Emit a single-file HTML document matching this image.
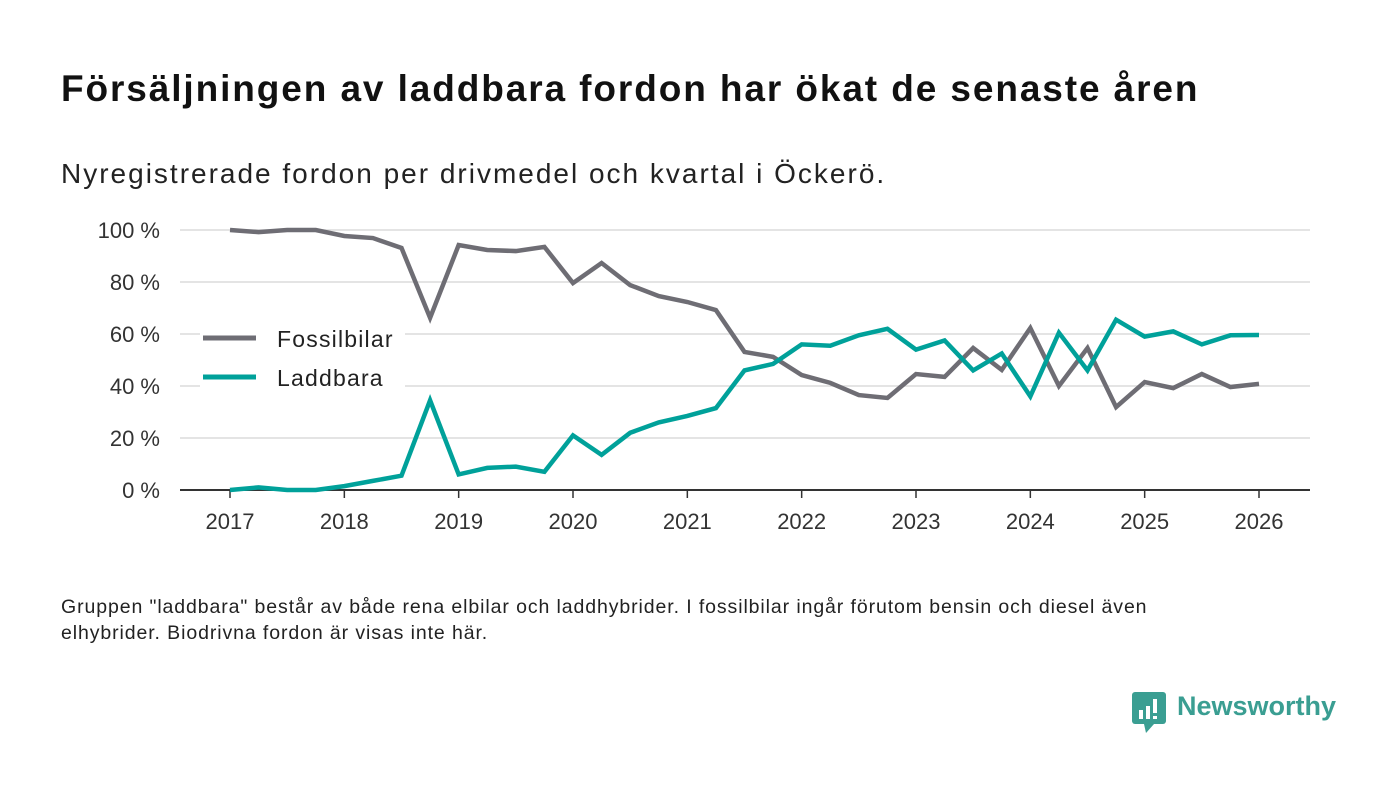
<!DOCTYPE html>
<html><head><meta charset="utf-8"><style>
body{margin:0;background:#fff;font-family:"Liberation Sans","DejaVu Sans",sans-serif;}
#wrap{position:relative;width:1400px;height:793px;overflow:hidden;}
h1{position:absolute;left:61px;top:68px;margin:0;font-size:37px;font-weight:bold;color:#111;letter-spacing:1.9px;white-space:nowrap;}
.sub{position:absolute;left:61px;top:158px;font-size:28px;color:#222;letter-spacing:2px;white-space:nowrap;}
.note{position:absolute;left:61px;top:594px;font-size:19.5px;line-height:26px;color:#222;width:1120px;letter-spacing:0.9px;}
.logo{position:absolute;left:1132px;top:692px;}
.logotxt{position:absolute;left:1177px;top:691px;font-size:27px;font-weight:bold;color:#3a9e92;}
</style></head><body><div id="wrap">
<h1>Försäljningen av laddbara fordon har ökat de senaste åren</h1>
<div class="sub">Nyregistrerade fordon per drivmedel och kvartal i Öckerö.</div>
<svg id="chart" width="1400" height="793" style="position:absolute;left:0;top:0"></svg>
<div class="note">Gruppen "laddbara" består av både rena elbilar och laddhybrider. I fossilbilar ingår förutom bensin och diesel även elhybrider. Biodrivna fordon är visas inte här.</div>
<svg class="logo" width="36" height="42"><rect x="0" y="0" width="34" height="32" rx="3" fill="#3a9e92"/><polygon points="12,32 22,32 14,41" fill="#3a9e92"/><rect x="7" y="18" width="4" height="9" fill="#fff"/><rect x="14" y="14" width="4" height="13" fill="#fff"/><rect x="21" y="7" width="4" height="14" fill="#fff"/><rect x="21" y="24" width="4" height="3" fill="#fff"/></svg>
<div class="logotxt">Newsworthy</div>
</div>
<script>
const years=[2017,2018,2019,2020,2021,2022,2023,2024,2025,2026];
const yTicks=[0,20,40,60,80,100];
const fossil=[100,99.2,100,100,97.7,96.9,93.1,66.2,94.2,92.3,91.9,93.5,79.6,87.3,78.8,74.6,72.3,69.2,53.1,51.2,44.2,41.2,36.5,35.4,44.6,43.5,54.6,46.2,62.3,40,54.6,31.9,41.5,39.2,44.6,39.6,40.8];
const laddbara=[0,1,0,0,1.5,3.5,5.5,34.5,6,8.5,9,7,21,13.5,22,26,28.5,31.5,46,48.5,56,55.5,59.5,62,54,57.5,46,52.5,36,60.5,46,65.5,59,61,56,59.5,59.6];
const svg=document.getElementById('chart');const NS='http://www.w3.org/2000/svg';
const x=t=>230+(t-2017)*(1259-230)/9;
const y=v=>490-v*2.6;
function mk(tag,at,parent){const e=document.createElementNS(NS,tag);for(const k in at)e.setAttribute(k,at[k]);(parent||svg).appendChild(e);return e;}
yTicks.forEach(v=>{
 if(v>0){const g=mk('line',{x1:180,x2:1310,y1:y(v),y2:y(v),stroke:'#dcdcdc','stroke-width':1.5});
 
 }
 const t=mk('text',{x:160,y:y(v)+8,'text-anchor':'end','font-size':22,fill:'#333','font-family':'Liberation Sans, sans-serif'});t.textContent=v+' %';
 
 
});
const ax=mk('line',{x1:180,x2:1310,y1:490,y2:490,stroke:'#333','stroke-width':2});


years.forEach(yr=>{
 mk('line',{x1:x(yr),x2:x(yr),y1:490,y2:498,stroke:'#333','stroke-width':1.5});
 const t=mk('text',{x:x(yr),y:529,'text-anchor':'middle','font-size':22,fill:'#333','font-family':'Liberation Sans, sans-serif'});t.textContent=yr;
 
 
});
mk('rect',{x:200,y:318,width:205,height:80,fill:'#fff'});
function series(arr,col,name){
 const p=arr.map((v,i)=>x(2017+i/4)+','+y(v)).join(' ');
 const l=mk('polyline',{points:p,fill:'none',stroke:col,'stroke-width':4.5,'stroke-linejoin':'miter'});
 
 
}
series(fossil,'#6e6d74','fossilbilar-line');
series(laddbara,'#00a19a','laddbara-line');
[['Fossilbilar','#6e6d74',338],['Laddbara','#00a19a',377]].forEach(([n,c,yy])=>{
 const g=mk('g',{});
 
 
 mk('line',{x1:203,x2:256,y1:yy,y2:yy,stroke:c,'stroke-width':5},g);
 const t=mk('text',{x:277,y:yy+9,'font-size':23,'letter-spacing':1.2,fill:'#222','font-family':'Liberation Sans, sans-serif'},g);t.textContent=n;
});
</script></body></html>
